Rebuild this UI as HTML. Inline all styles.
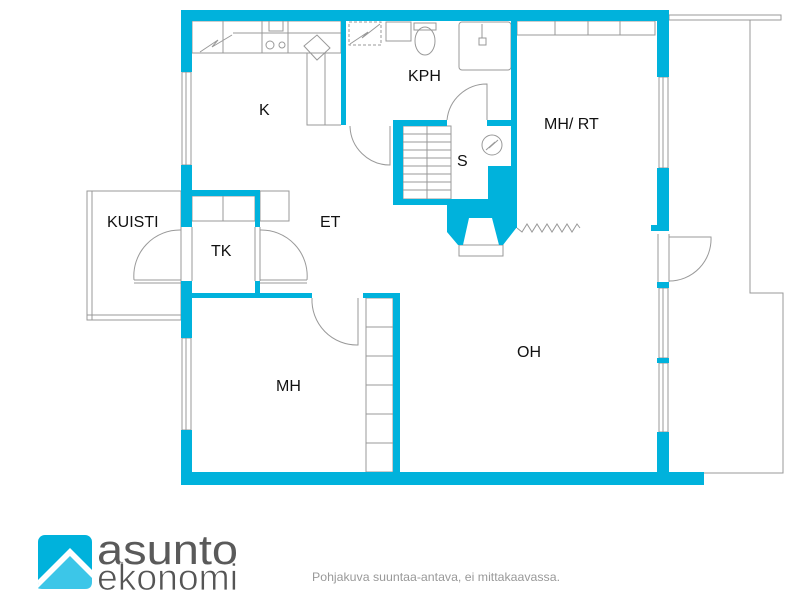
<!DOCTYPE html>
<html><head><meta charset="utf-8"><style>
html,body{margin:0;padding:0;background:#fff;}
svg{display:block;}
text{font-family:"Liberation Sans",sans-serif;}
</style></head><body>
<svg width="797" height="600" viewBox="0 0 797 600" xmlns="http://www.w3.org/2000/svg">
<g fill="none" stroke="#999" stroke-width="1">
 <rect x="669" y="15" width="112" height="5"/>
 <polyline points="750,20 750,293 783,293 783,473 669,473"/>
 <rect x="87" y="191" width="94" height="129"/>
 <line x1="92" y1="191" x2="92" y2="320"/>
 <line x1="87" y1="315" x2="181" y2="315"/>
 <rect x="192" y="21" width="149" height="32"/>
 <line x1="223" y1="21" x2="223" y2="53"/>
 <line x1="233" y1="33" x2="341" y2="33"/>
 <line x1="262" y1="21" x2="262" y2="53"/>
 <line x1="288" y1="21" x2="288" y2="53"/>
 <polyline points="200,52 218,40 212,47 232,35"/>
 <circle cx="270" cy="45" r="4"/><circle cx="282" cy="45" r="3"/>
 <rect x="269" y="21" width="14" height="10"/>
 <rect x="307" y="53" width="18" height="72"/>
 <polygon points="304,46 317,35 330,48 317,60"/>
 <line x1="307" y1="125" x2="341" y2="125"/>
 <rect x="349" y="22" width="32" height="23" stroke-dasharray="3,2"/>
 <polyline points="350,44 368,32 362,38 380,24"/>
 <rect x="386" y="22" width="25" height="19"/>
 <ellipse cx="425" cy="41" rx="10" ry="14"/>
 <rect x="414" y="23" width="22" height="7"/>
 <rect x="459" y="22" width="52" height="48" rx="3"/>
 <rect x="479" y="38" width="7" height="7"/>
 <line x1="482" y1="24" x2="482" y2="38"/>
 <path d="M447,120 A40,40 0 0 1 487,84 L487,120"/>
 <path d="M350,126 A40,40 0 0 0 390,165 L390,126"/>
 <path d="M312,298 A45,45 0 0 0 358,345 L358,298"/>
 <path d="M134,280 A46,46 0 0 1 181,230 M134,280 L181,280 M134,283 L181,283"/>
 <path d="M307,280 A46,46 0 0 0 260,230 M260,280 L307,280 M260,283 L307,283"/>
 <path d="M669,281 A42,42 0 0 0 711,237 L669,237"/>
 <rect x="403" y="126" width="48" height="73"/>
 <line x1="427" y1="126" x2="427" y2="199"/>
 <g><line x1="403" y1="134" x2="451" y2="134"/><line x1="403" y1="142" x2="451" y2="142"/><line x1="403" y1="150" x2="451" y2="150"/><line x1="403" y1="158" x2="451" y2="158"/><line x1="403" y1="166" x2="451" y2="166"/><line x1="403" y1="174" x2="451" y2="174"/><line x1="403" y1="182" x2="451" y2="182"/><line x1="403" y1="190" x2="451" y2="190"/></g>
 <circle cx="492" cy="145" r="10"/>
 <polyline points="486,150 495,142 489,148 498,140"/>
 <rect x="459" y="245" width="44" height="11"/>
 <polyline points="517,228 522,232 527,224 532,232 537,224 542,232 547,224 552,232 557,224 562,232 567,224 572,232 577,224 580,228"/>
 <rect x="192" y="196" width="63" height="25"/><line x1="223" y1="196" x2="223" y2="221"/>
 <rect x="260" y="191" width="29" height="30"/>
 <rect x="366" y="298" width="27" height="174"/>
 <line x1="366" y1="327" x2="393" y2="327"/><line x1="366" y1="356" x2="393" y2="356"/><line x1="366" y1="385" x2="393" y2="385"/><line x1="366" y1="414" x2="393" y2="414"/><line x1="366" y1="443" x2="393" y2="443"/>
 <rect x="517" y="21" width="138" height="14"/>
 <line x1="555" y1="21" x2="555" y2="35"/><line x1="588" y1="21" x2="588" y2="35"/><line x1="620" y1="21" x2="620" y2="35"/>
 <rect x="182" y="72" width="9" height="93"/><line x1="186" y1="72" x2="186" y2="165"/>
 <rect x="182" y="338" width="9" height="92"/><line x1="186" y1="338" x2="186" y2="430"/>
 <rect x="659" y="77" width="9" height="91"/><line x1="663" y1="77" x2="663" y2="168"/>
 <rect x="659" y="288" width="9" height="70"/><line x1="663" y1="288" x2="663" y2="358"/>
 <rect x="659" y="363" width="9" height="69"/><line x1="663" y1="363" x2="663" y2="432"/>
 <line x1="181" y1="227" x2="181" y2="281"/><line x1="192" y1="227" x2="192" y2="281"/>
 <line x1="255" y1="227" x2="255" y2="281"/><line x1="260" y1="227" x2="260" y2="281"/>
 <line x1="658" y1="234" x2="658" y2="282"/><line x1="669" y1="234" x2="669" y2="282"/>
</g>
<g fill="#00b2dc">
 <rect x="181" y="10" width="488" height="11"/>
 <rect x="181" y="10" width="11" height="62"/>
 <rect x="181" y="165" width="11" height="62"/>
 <rect x="181" y="281" width="11" height="57"/>
 <rect x="181" y="430" width="11" height="55"/>
 <rect x="181" y="472" width="523" height="13"/>
 <rect x="657" y="10" width="12" height="67"/>
 <rect x="657" y="168" width="12" height="57"/>
 <rect x="651" y="225" width="18" height="6"/>
 <rect x="657" y="282" width="12" height="6"/>
 <rect x="657" y="358" width="12" height="5"/>
 <rect x="657" y="432" width="12" height="40"/>
 <rect x="341" y="21" width="5" height="104"/>
 <rect x="511" y="21" width="6" height="207"/>
 <rect x="393" y="120" width="54" height="6"/>
 <rect x="487" y="120" width="24" height="6"/>
 <rect x="393" y="120" width="10" height="85"/>
 <rect x="393" y="199" width="60" height="6"/>
 <rect x="488" y="166" width="29" height="40"/>
 <path d="M447,199 L517,199 L517,227 L503,245 L499,245 L492,218 L469,218 L463,245 L458,245 L447,232 Z"/>
 <rect x="192" y="190" width="68" height="6"/>
 <rect x="255" y="190" width="5" height="37"/>
 <rect x="255" y="281" width="5" height="17"/>
 <rect x="192" y="293" width="120" height="5"/>
 <rect x="363" y="293" width="37" height="5"/>
 <rect x="393" y="293" width="7" height="185"/>
</g>
<g font-size="16" fill="#111">
 <text x="259" y="115">K</text>
 <text x="408" y="81">KPH</text>
 <text x="544" y="129">MH/ RT</text>
 <text x="457" y="166">S</text>
 <text x="320" y="227">ET</text>
 <text x="107" y="227">KUISTI</text>
 <text x="211" y="256">TK</text>
 <text x="276" y="391">MH</text>
 <text x="517" y="357">OH</text>
</g>
<rect x="38" y="535" width="54" height="54" rx="7" fill="#00b2dc"/>
<path d="M38,580 L70,548 L92,570 L92,582 Q92,589 85,589 L45,589 Q38,589 38,582 Z" fill="#fff"/>
<path d="M38,588 L70,556 L92,578 L92,582 Q92,589 85,589 L45,589 Q38,589 38,588 Z" fill="#3cc6e8"/>
<text x="97" y="564" font-size="42" fill="#5a5a5a" textLength="141" lengthAdjust="spacingAndGlyphs">asunto</text>
<text x="97" y="590" font-size="37" fill="#555" stroke="#fff" stroke-width="0.8" textLength="141" lengthAdjust="spacingAndGlyphs">ekonomi</text>
<text x="312" y="581" font-size="12" fill="#999" textLength="248" lengthAdjust="spacingAndGlyphs">Pohjakuva suuntaa-antava, ei mittakaavassa.</text>
</svg>
</body></html>
